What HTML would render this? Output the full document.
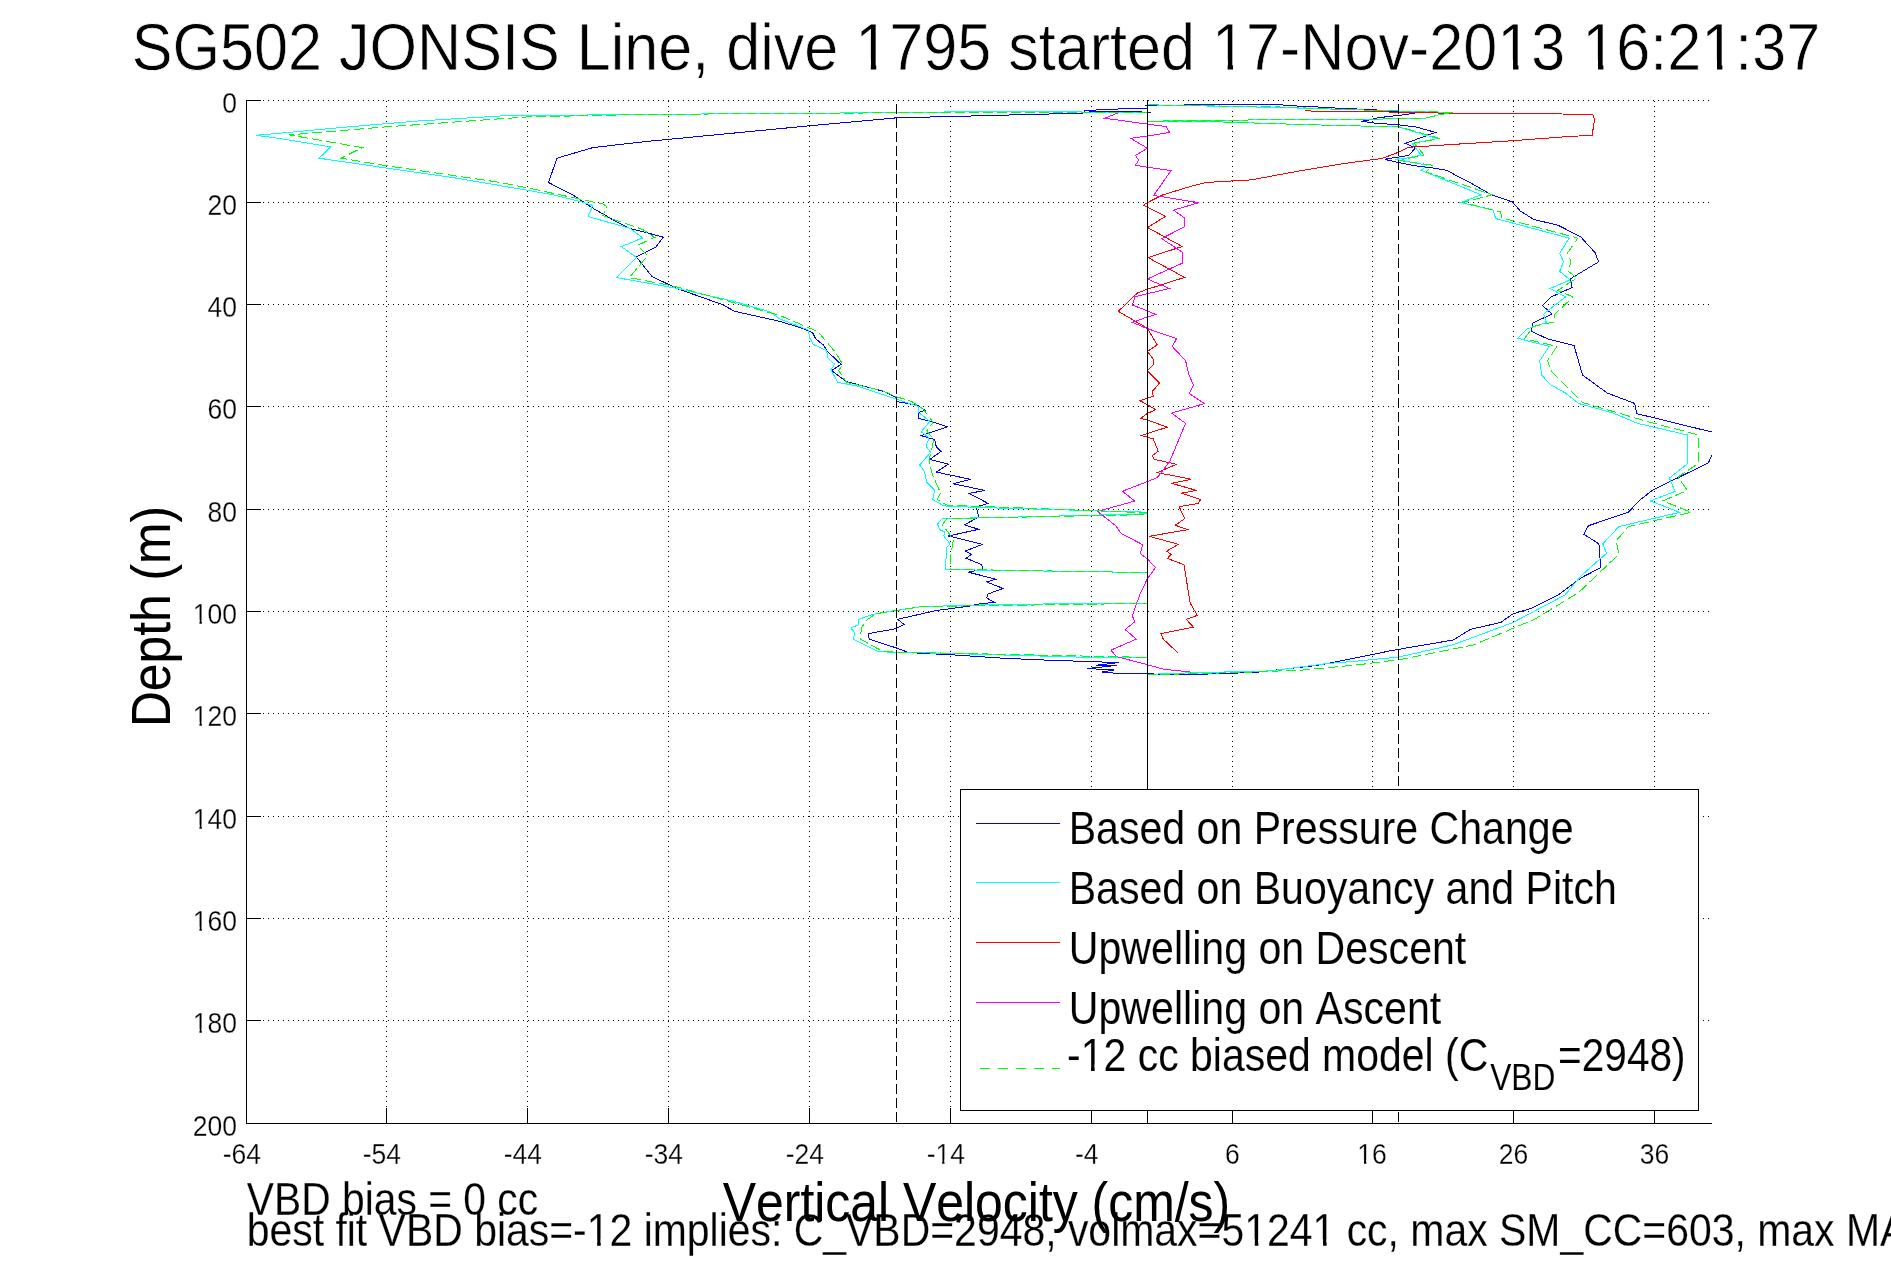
<!DOCTYPE html>
<html><head><meta charset="utf-8"><style>
html,body{margin:0;padding:0;background:#fff;width:1891px;height:1262px;overflow:hidden}
svg{display:block;font-family:"Liberation Sans",sans-serif} text{font-kerning:none;font-variant-ligatures:none;font-feature-settings:"kern" 0,"liga" 0}
</style></head><body>
<svg width="1891" height="1262" viewBox="0 0 1891 1262">
<g stroke="#000" stroke-width="1" stroke-dasharray="1 4" shape-rendering="crispEdges">
<line x1="386.5" y1="100" x2="386.5" y2="1123" stroke-dashoffset="4"/>
<line x1="527.5" y1="100" x2="527.5" y2="1123" stroke-dashoffset="4"/>
<line x1="668.5" y1="100" x2="668.5" y2="1123" stroke-dashoffset="4"/>
<line x1="809.5" y1="100" x2="809.5" y2="1123" stroke-dashoffset="4"/>
<line x1="950.5" y1="100" x2="950.5" y2="1123" stroke-dashoffset="4"/>
<line x1="1091.5" y1="100" x2="1091.5" y2="1123" stroke-dashoffset="4"/>
<line x1="1232.5" y1="100" x2="1232.5" y2="1123" stroke-dashoffset="4"/>
<line x1="1372.5" y1="100" x2="1372.5" y2="1123" stroke-dashoffset="4"/>
<line x1="1513.5" y1="100" x2="1513.5" y2="1123" stroke-dashoffset="4"/>
<line x1="1654.5" y1="100" x2="1654.5" y2="1123" stroke-dashoffset="4"/>
<line x1="246" y1="100.5" x2="1711" y2="100.5" stroke-dashoffset="3"/>
<line x1="246" y1="202.5" x2="1711" y2="202.5" stroke-dashoffset="3"/>
<line x1="246" y1="304.5" x2="1711" y2="304.5" stroke-dashoffset="3"/>
<line x1="246" y1="406.5" x2="1711" y2="406.5" stroke-dashoffset="3"/>
<line x1="246" y1="509.5" x2="1711" y2="509.5" stroke-dashoffset="3"/>
<line x1="246" y1="611.5" x2="1711" y2="611.5" stroke-dashoffset="3"/>
<line x1="246" y1="713.5" x2="1711" y2="713.5" stroke-dashoffset="3"/>
<line x1="246" y1="816.5" x2="1711" y2="816.5" stroke-dashoffset="3"/>
<line x1="246" y1="918.5" x2="1711" y2="918.5" stroke-dashoffset="3"/>
<line x1="246" y1="1020.5" x2="1711" y2="1020.5" stroke-dashoffset="3"/>
</g>
<defs><clipPath id="ax"><rect x="246" y="100" width="1466" height="1024"/></clipPath></defs>
<g clip-path="url(#ax)" fill="none" stroke-width="1" shape-rendering="crispEdges">
<polyline stroke="#0000ff" points="1150.7,112.5 1147.6,112.3 1133.9,111.6 1092.4,111.2 1085.0,110.8"/>
<polyline stroke="#0000ff" points="1147.5,108.2 1128.9,108.5 1100.9,109.8 1085.0,110.5 1082.9,113.3 1040.0,114.2 960.0,116.3 896.7,117.8 809.4,125.8 668.2,139.4 646.0,141.5 592.9,147.6 557.0,158.2 548.5,182.5 573.0,195.1 593.6,208.6 614.2,220.5 630.1,228.4 663.4,237.1 655.5,247.4 636.4,257.0 652.3,276.8 677.7,288.7 722.1,304.5 734.8,311.4 780.0,321.4 800.6,327.8 812.5,332.5 815.7,338.9 823.6,345.2 827.6,351.6 841.1,364.3 831.6,370.6 846.6,381.7 883.1,391.2 896.6,397.6 896.6,401.5 918.0,405.5 925.2,410.3 918.0,412.6 918.0,418.2 933.9,422.2 947.4,426.9 921.2,435.6 934.7,439.6 936.3,446.8 941.0,451.5 929.9,459.4 948.2,464.2 936.3,472.1 970.4,479.3 952.9,483.7 984.7,490.4 969.3,493.4 988.2,503.5 976.3,506.7 978.7,517.0 964.4,524.9 978.7,529.3 948.5,536.0 982.6,544.3 965.2,551.1 971.5,554.3 966.0,558.2 981.8,564.6 982.6,569.3 968.3,572.2 996.1,579.2 986.6,582.0 1003.2,588.4 988.2,593.9 986.6,597.9 994.5,602.3 977.1,604.2 971.5,605.8 935.8,610.6 897.7,619.3 904.1,624.5 895.4,628.8 868.4,633.6 869.2,639.1 896.2,647.9 908.8,652.6 954.9,655.0 1002.5,658.2 1058.0,660.6 1080.0,661.2 1118.9,662.6 1096.0,665.3 1116.5,665.5 1087.0,668.5 1114.0,670.0 1102.0,672.0 1121.3,673.7 1195.8,674.4 1229.1,673.3 1254.5,672.5 1318.0,665.3 1360.0,657.0 1392.4,650.4 1453.3,640.0 1470.4,629.4 1500.9,622.4 1512.3,614.2 1532.3,607.9 1558.0,595.2 1580.8,578.0 1600.8,567.6 1598.9,543.8 1583.7,534.2 1588.4,525.7 1628.4,512.3 1638.9,500.9 1652.2,490.4 1708.4,462.8 1711.5,456.0 1725.0,445.0 1711.8,432.0 1636.7,413.6 1634.8,403.5 1607.2,393.0 1582.5,375.0 1574.0,345.5 1547.4,338.8 1531.2,331.2 1533.1,322.7 1552.1,314.1 1542.6,305.6 1551.2,297.0 1572.1,287.5 1570.2,278.9 1598.7,261.8 1594.9,252.3 1587.8,244.9 1581.1,237.1 1558.2,225.3 1533.7,219.4 1520.1,210.9 1512.5,202.0 1491.4,194.8 1467.7,181.3 1460.3,177.7 1446.6,170.2 1436.2,168.5 1425.9,167.1 1414.2,165.7 1399.1,162.6 1388.1,160.2 1385.4,159.2 1388.1,158.5 1398.4,157.1 1408.7,155.4 1415.6,147.8 1405.3,143.4 1435.6,132.4 1415.6,126.9 1398.4,124.8 1388.1,124.1 1377.1,123.4 1367.5,122.1 1361.3,121.4 1367.5,120.3 1379.2,117.6 1400.5,115.2 1414.9,113.1 1371.6,109.6 1340.0,108.3 1316.1,106.9 1298.6,106.1 1279.6,104.8 1208.2,104.8 1147.5,105.3 1144.8,105.5"/>
<polyline stroke="#00ffff" points="1147.5,112.2 1082.0,112.0 960.0,111.8 896.0,112.6 646.0,114.4 502.0,115.9 415.2,121.2 341.2,127.5 284.0,132.8 256.2,135.3 284.0,139.1 330.6,147.0 319.0,158.2 381.4,167.3 457.5,178.3 500.0,185.6 550.8,194.3 582.5,202.2 592.8,205.4 588.1,216.5 630.1,228.4 642.8,237.9 621.4,246.6 636.4,257.4 616.6,277.6 674.5,287.9 733.3,301.2 769.7,311.7 780.0,319.0 808.6,330.1 809.4,337.3 813.3,344.4 826.8,350.8 827.6,357.9 834.7,364.3 830.8,369.8 837.9,382.5 856.2,385.7 896.6,399.2 918.0,406.3 918.8,412.6 929.9,421.4 921.2,431.7 929.1,438.0 926.0,446.0 930.7,452.3 919.6,465.0 924.4,471.3 926.8,482.5 934.7,490.4 932.6,499.5 943.8,505.9 978.7,507.5 1147.5,512.2 1147.5,513.8 1018.3,517.0 942.2,518.6 937.4,524.1 939.8,529.7 944.5,532.0 943.8,536.0 950.1,543.9 946.9,547.1 945.3,569.3 978.7,570.1 1147.5,572.5 1147.5,603.4 1010.4,604.2 921.5,606.6 894.6,610.6 872.4,614.5 858.9,619.3 858.1,624.9 850.9,628.0 854.9,632.8 853.3,639.1 878.7,651.8 946.9,653.4 1089.7,657.4 1147.5,657.9 1147.5,674.4 1191.0,672.8 1270.4,670.9 1325.9,663.7 1360.0,660.8 1399.0,657.0 1453.3,644.7 1512.3,622.8 1564.7,595.2 1581.8,575.2 1606.5,553.3 1602.7,543.8 1618.9,526.6 1679.8,512.3 1650.3,500.9 1675.1,491.4 1669.4,478.1 1687.4,463.8 1687.1,434.9 1637.7,423.4 1613.0,413.0 1578.7,403.5 1565.4,393.0 1550.2,384.5 1541.7,375.0 1539.7,360.7 1549.3,346.4 1517.9,338.3 1526.4,329.3 1546.4,322.7 1543.6,314.1 1565.4,297.0 1550.2,288.4 1570.2,279.9 1559.7,271.3 1563.5,261.8 1559.7,253.3 1569.2,238.1 1495.6,218.5 1493.1,210.1 1460.9,202.5 1481.2,194.8 1421.2,170.3 1427.1,165.2 1395.0,159.2 1408.7,157.8 1421.1,155.1 1412.2,143.4 1437.6,138.6 1398.4,126.9 1340.0,125.5 1324.0,125.1 1271.7,123.6 1222.5,122.0 1147.5,121.2 1282.8,119.6 1371.0,119.3 1425.9,118.0 1440.4,114.5 1452.7,112.4 1394.0,110.9 1340.0,109.3 1280.0,107.5 1147.5,104.8"/>
<polyline stroke="#ff0000" points="1305.0,110.9 1351.0,111.7 1436.2,112.4 1439.0,113.5 1537.1,113.6 1592.9,114.5 1594.6,119.5 1592.1,135.3 1569.2,136.5 1508.3,141.0 1464.3,143.7 1432.1,145.8 1417.0,146.8 1408.7,147.2 1398.4,152.3 1381.9,158.5 1346.2,163.2 1298.6,171.1 1251.0,179.9 1206.7,182.4 1190.9,186.3 1162.4,195.0 1147.3,202.7 1143.4,205.3 1165.5,216.4 1147.5,227.5 1182.2,246.5 1148.1,257.6 1184.6,277.4 1147.3,289.3 1137.4,293.0 1118.3,311.3 1147.4,328.3 1153.2,338.2 1157.3,344.9 1147.4,351.5 1153.2,359.0 1153.2,364.8 1147.4,370.7 1159.5,383.1 1152.3,391.5 1153.2,396.4 1139.9,400.6 1147.4,404.8 1155.7,409.8 1147.4,413.4 1140.7,418.4 1147.4,420.1 1158.2,423.9 1167.3,427.2 1147.4,433.4 1141.5,435.5 1153.2,438.9 1158.2,451.3 1152.3,455.5 1154.0,459.3 1176.5,464.3 1157.3,472.6 1191.4,479.3 1171.5,483.3 1196.4,490.4 1181.5,493.2 1200.6,499.5 1198.2,503.5 1179.2,506.7 1184.7,518.6 1175.2,525.2 1187.9,529.7 1149.0,536.3 1178.4,544.3 1166.5,551.1 1171.2,554.3 1167.3,558.5 1183.9,564.6 1190.3,603.4 1197.4,615.3 1186.3,619.3 1193.4,627.2 1160.9,633.6 1163.3,639.1 1177.6,652.6"/>
<polyline stroke="#ff00ff" points="1118.5,112.8 1104.6,118.2 1147.3,124.1 1166.3,126.6 1169.5,132.5 1147.3,136.1 1130.7,138.3 1147.5,148.3 1135.4,155.4 1138.6,160.2 1135.4,165.3 1147.3,167.3 1171.1,170.5 1153.7,195.4 1198.8,202.7 1173.5,210.1 1184.6,218.0 1184.6,226.7 1161.6,238.6 1182.2,252.1 1182.2,263.2 1147.3,279.0 1169.5,288.5 1134.9,296.7 1132.4,305.0 1147.4,310.8 1155.7,314.6 1147.4,316.9 1132.4,322.4 1147.4,328.6 1176.5,338.6 1172.3,346.5 1185.6,360.7 1188.9,374.8 1193.6,385.1 1189.4,393.5 1204.4,403.6 1171.5,413.1 1185.6,423.4 1169.8,461.3 1157.3,477.6 1147.4,481.6 1122.4,491.2 1134.7,501.1 1097.5,511.4 1115.7,525.7 1121.3,533.6 1142.7,544.7 1140.3,553.5 1148.2,559.8 1155.4,567.7 1147.4,578.8 1141.1,591.5 1136.3,604.2 1132.4,616.1 1134.7,621.7 1125.2,629.6 1136.3,639.1 1110.9,650.2 1116.5,656.6 1146.6,664.5 1164.1,669.3 1191.1,672.1"/>
<polyline stroke="#00ff00" stroke-dasharray="10 4" points="1147.5,112.4 960.0,112.1 896.0,112.8 646.0,114.4 527.3,116.9 385.6,126.9 289.4,134.9 362.3,147.6 341.2,158.2 385.6,165.6 500.0,182.4 527.3,187.8 603.1,204.1 606.6,206.2 602.8,215.7 642.8,229.5 654.7,237.4 637.2,245.4 647.6,255.8 629.3,277.6 674.5,286.3 780.0,315.5 818.1,331.7 835.5,352.4 842.7,364.3 838.7,370.6 846.6,382.5 881.5,390.4 896.6,396.8 911.7,401.5 923.6,409.5 933.1,422.2 926.8,430.9 933.9,439.6 929.1,460.2 932.3,474.5 938.7,488.8 940.6,493.2 937.4,499.5 946.9,505.1 1147.5,512.8 1147.5,514.6 946.9,518.6 942.2,524.9 948.5,532.8 953.3,540.8 950.9,553.5 950.1,569.3 1147.5,572.6 1147.5,603.4 921.5,606.6 875.5,613.8 866.8,620.1 861.3,628.0 860.5,639.1 883.5,651.8 1147.5,657.4 1147.5,674.8 1238.7,672.5 1302.1,670.1 1360.0,664.6 1403.8,658.9 1474.2,644.7 1535.1,619.0 1578.9,592.3 1618.9,554.2 1616.1,540.9 1628.4,526.6 1691.3,512.3 1662.7,500.9 1687.4,490.4 1677.9,477.1 1695.0,465.7 1698.9,462.8 1698.5,434.9 1647.2,421.5 1582.5,402.5 1552.1,372.1 1547.4,360.7 1556.9,346.4 1524.5,338.8 1533.1,326.5 1555.0,321.7 1554.0,315.1 1573.0,297.0 1557.8,290.4 1576.8,278.0 1568.3,271.3 1571.1,260.9 1567.3,253.3 1577.8,238.1 1501.5,217.7 1500.7,211.8 1462.6,202.5 1492.2,194.8 1426.2,172.0 1432.2,165.2 1400.0,160.5 1410.0,158.0 1424.0,155.0 1414.0,143.0 1440.0,138.6 1400.0,126.9 1340.0,125.5 1272.0,123.6 1222.0,122.0 1147.5,121.2 1283.0,119.6 1371.0,119.3 1426.0,118.0 1441.0,114.5 1453.0,112.4 1394.0,110.9 1340.0,109.3 1280.0,107.0 1147.5,104.8"/>
</g>
<g stroke="#000" stroke-width="1" shape-rendering="crispEdges">
<line x1="1147.5" y1="100" x2="1147.5" y2="1123"/>
<line x1="896.5" y1="100" x2="896.5" y2="1123" stroke-dasharray="10 4" stroke-dashoffset="10"/>
<line x1="1398.5" y1="100" x2="1398.5" y2="1123" stroke-dasharray="10 4" stroke-dashoffset="10"/>
</g>
<g stroke="#000" stroke-width="1" shape-rendering="crispEdges" fill="none">
<line x1="246.5" y1="100" x2="246.5" y2="1124"/>
<line x1="246" y1="1123.5" x2="1712" y2="1123.5"/>
<line x1="246.5" y1="1108" x2="246.5" y2="1123"/>
<line x1="386.5" y1="1108" x2="386.5" y2="1123"/>
<line x1="527.5" y1="1108" x2="527.5" y2="1123"/>
<line x1="668.5" y1="1108" x2="668.5" y2="1123"/>
<line x1="809.5" y1="1108" x2="809.5" y2="1123"/>
<line x1="950.5" y1="1108" x2="950.5" y2="1123"/>
<line x1="1091.5" y1="1108" x2="1091.5" y2="1123"/>
<line x1="1232.5" y1="1108" x2="1232.5" y2="1123"/>
<line x1="1372.5" y1="1108" x2="1372.5" y2="1123"/>
<line x1="1513.5" y1="1108" x2="1513.5" y2="1123"/>
<line x1="1654.5" y1="1108" x2="1654.5" y2="1123"/>
<line x1="246" y1="100.5" x2="261" y2="100.5"/>
<line x1="246" y1="202.5" x2="261" y2="202.5"/>
<line x1="246" y1="304.5" x2="261" y2="304.5"/>
<line x1="246" y1="406.5" x2="261" y2="406.5"/>
<line x1="246" y1="509.5" x2="261" y2="509.5"/>
<line x1="246" y1="611.5" x2="261" y2="611.5"/>
<line x1="246" y1="713.5" x2="261" y2="713.5"/>
<line x1="246" y1="816.5" x2="261" y2="816.5"/>
<line x1="246" y1="918.5" x2="261" y2="918.5"/>
<line x1="246" y1="1020.5" x2="261" y2="1020.5"/>
<line x1="246" y1="1123.5" x2="261" y2="1123.5"/>
</g>
<g font-family="Liberation Sans, sans-serif">
<mask id="m1" maskUnits="userSpaceOnUse" x="218.3" y="83.5" width="22.7" height="39.8"><text transform="translate(222.30,113.00) scale(0.8983,1)" font-size="29.50" fill="#fff" stroke="#000" stroke-width="0.4">0</text></mask>
<rect x="218.3" y="83.5" width="22.7" height="39.8" fill="#000" mask="url(#m1)"/>
<mask id="m2" maskUnits="userSpaceOnUse" x="203.6" y="185.5" width="37.5" height="39.8"><text transform="translate(207.56,215.00) scale(0.8983,1)" font-size="29.50" fill="#fff" stroke="#000" stroke-width="0.4">20</text></mask>
<rect x="203.6" y="185.5" width="37.5" height="39.8" fill="#000" mask="url(#m2)"/>
<mask id="m3" maskUnits="userSpaceOnUse" x="203.6" y="287.5" width="37.5" height="39.8"><text transform="translate(207.56,317.00) scale(0.8983,1)" font-size="29.50" fill="#fff" stroke="#000" stroke-width="0.4">40</text></mask>
<rect x="203.6" y="287.5" width="37.5" height="39.8" fill="#000" mask="url(#m3)"/>
<mask id="m4" maskUnits="userSpaceOnUse" x="203.6" y="389.5" width="37.5" height="39.8"><text transform="translate(207.56,419.00) scale(0.8983,1)" font-size="29.50" fill="#fff" stroke="#000" stroke-width="0.4">60</text></mask>
<rect x="203.6" y="389.5" width="37.5" height="39.8" fill="#000" mask="url(#m4)"/>
<mask id="m5" maskUnits="userSpaceOnUse" x="203.6" y="492.5" width="37.5" height="39.8"><text transform="translate(207.56,522.00) scale(0.8983,1)" font-size="29.50" fill="#fff" stroke="#000" stroke-width="0.4">80</text></mask>
<rect x="203.6" y="492.5" width="37.5" height="39.8" fill="#000" mask="url(#m5)"/>
<mask id="m6" maskUnits="userSpaceOnUse" x="188.8" y="594.5" width="52.2" height="39.8"><text transform="translate(192.82,624.00) scale(0.8983,1)" font-size="29.50" fill="#fff" stroke="#000" stroke-width="0.4">100</text><g transform="translate(192.82,624.00) scale(0.8983,1)" fill="#000"><rect x="1.30" y="-4.32" width="6.12" height="4.90"/><rect x="10.03" y="-4.32" width="5.82" height="4.90"/></g></mask>
<rect x="188.8" y="594.5" width="52.2" height="39.8" fill="#000" mask="url(#m6)"/>
<mask id="m7" maskUnits="userSpaceOnUse" x="188.8" y="696.5" width="52.2" height="39.8"><text transform="translate(192.82,726.00) scale(0.8983,1)" font-size="29.50" fill="#fff" stroke="#000" stroke-width="0.4">120</text><g transform="translate(192.82,726.00) scale(0.8983,1)" fill="#000"><rect x="1.30" y="-4.32" width="6.12" height="4.90"/><rect x="10.03" y="-4.32" width="5.82" height="4.90"/></g></mask>
<rect x="188.8" y="696.5" width="52.2" height="39.8" fill="#000" mask="url(#m7)"/>
<mask id="m8" maskUnits="userSpaceOnUse" x="188.8" y="799.5" width="52.2" height="39.8"><text transform="translate(192.82,829.00) scale(0.8983,1)" font-size="29.50" fill="#fff" stroke="#000" stroke-width="0.4">140</text><g transform="translate(192.82,829.00) scale(0.8983,1)" fill="#000"><rect x="1.30" y="-4.32" width="6.12" height="4.90"/><rect x="10.03" y="-4.32" width="5.82" height="4.90"/></g></mask>
<rect x="188.8" y="799.5" width="52.2" height="39.8" fill="#000" mask="url(#m8)"/>
<mask id="m9" maskUnits="userSpaceOnUse" x="188.8" y="901.5" width="52.2" height="39.8"><text transform="translate(192.82,931.00) scale(0.8983,1)" font-size="29.50" fill="#fff" stroke="#000" stroke-width="0.4">160</text><g transform="translate(192.82,931.00) scale(0.8983,1)" fill="#000"><rect x="1.30" y="-4.32" width="6.12" height="4.90"/><rect x="10.03" y="-4.32" width="5.82" height="4.90"/></g></mask>
<rect x="188.8" y="901.5" width="52.2" height="39.8" fill="#000" mask="url(#m9)"/>
<mask id="m10" maskUnits="userSpaceOnUse" x="188.8" y="1003.5" width="52.2" height="39.8"><text transform="translate(192.82,1033.00) scale(0.8983,1)" font-size="29.50" fill="#fff" stroke="#000" stroke-width="0.4">180</text><g transform="translate(192.82,1033.00) scale(0.8983,1)" fill="#000"><rect x="1.30" y="-4.32" width="6.12" height="4.90"/><rect x="10.03" y="-4.32" width="5.82" height="4.90"/></g></mask>
<rect x="188.8" y="1003.5" width="52.2" height="39.8" fill="#000" mask="url(#m10)"/>
<mask id="m11" maskUnits="userSpaceOnUse" x="188.8" y="1106.5" width="52.2" height="39.8"><text transform="translate(192.82,1136.00) scale(0.8983,1)" font-size="29.50" fill="#fff" stroke="#000" stroke-width="0.4">200</text></mask>
<rect x="188.8" y="1106.5" width="52.2" height="39.8" fill="#000" mask="url(#m11)"/>
<mask id="m12" maskUnits="userSpaceOnUse" x="218.6" y="1134.5" width="46.3" height="39.8"><text transform="translate(222.65,1164.00) scale(0.8983,1)" font-size="29.50" fill="#fff" stroke="#000" stroke-width="0.4">-64</text></mask>
<rect x="218.6" y="1134.5" width="46.3" height="39.8" fill="#000" mask="url(#m12)"/>
<mask id="m13" maskUnits="userSpaceOnUse" x="358.6" y="1134.5" width="46.3" height="39.8"><text transform="translate(362.65,1164.00) scale(0.8983,1)" font-size="29.50" fill="#fff" stroke="#000" stroke-width="0.4">-54</text></mask>
<rect x="358.6" y="1134.5" width="46.3" height="39.8" fill="#000" mask="url(#m13)"/>
<mask id="m14" maskUnits="userSpaceOnUse" x="499.6" y="1134.5" width="46.3" height="39.8"><text transform="translate(503.65,1164.00) scale(0.8983,1)" font-size="29.50" fill="#fff" stroke="#000" stroke-width="0.4">-44</text></mask>
<rect x="499.6" y="1134.5" width="46.3" height="39.8" fill="#000" mask="url(#m14)"/>
<mask id="m15" maskUnits="userSpaceOnUse" x="640.6" y="1134.5" width="46.3" height="39.8"><text transform="translate(644.65,1164.00) scale(0.8983,1)" font-size="29.50" fill="#fff" stroke="#000" stroke-width="0.4">-34</text></mask>
<rect x="640.6" y="1134.5" width="46.3" height="39.8" fill="#000" mask="url(#m15)"/>
<mask id="m16" maskUnits="userSpaceOnUse" x="781.6" y="1134.5" width="46.3" height="39.8"><text transform="translate(785.65,1164.00) scale(0.8983,1)" font-size="29.50" fill="#fff" stroke="#000" stroke-width="0.4">-24</text></mask>
<rect x="781.6" y="1134.5" width="46.3" height="39.8" fill="#000" mask="url(#m16)"/>
<mask id="m17" maskUnits="userSpaceOnUse" x="922.6" y="1134.5" width="46.3" height="39.8"><text transform="translate(926.65,1164.00) scale(0.8983,1)" font-size="29.50" fill="#fff" stroke="#000" stroke-width="0.4">-14</text><g transform="translate(926.65,1164.00) scale(0.8983,1)" fill="#000"><rect x="11.12" y="-4.32" width="6.12" height="4.90"/><rect x="19.85" y="-4.32" width="5.82" height="4.90"/></g></mask>
<rect x="922.6" y="1134.5" width="46.3" height="39.8" fill="#000" mask="url(#m17)"/>
<mask id="m18" maskUnits="userSpaceOnUse" x="1071.0" y="1134.5" width="31.6" height="39.8"><text transform="translate(1075.02,1164.00) scale(0.8983,1)" font-size="29.50" fill="#fff" stroke="#000" stroke-width="0.4">-4</text></mask>
<rect x="1071.0" y="1134.5" width="31.6" height="39.8" fill="#000" mask="url(#m18)"/>
<mask id="m19" maskUnits="userSpaceOnUse" x="1221.0" y="1134.5" width="22.7" height="39.8"><text transform="translate(1225.04,1164.00) scale(0.8983,1)" font-size="29.50" fill="#fff" stroke="#000" stroke-width="0.4">6</text></mask>
<rect x="1221.0" y="1134.5" width="22.7" height="39.8" fill="#000" mask="url(#m19)"/>
<mask id="m20" maskUnits="userSpaceOnUse" x="1353.3" y="1134.5" width="37.5" height="39.8"><text transform="translate(1357.33,1164.00) scale(0.8983,1)" font-size="29.50" fill="#fff" stroke="#000" stroke-width="0.4">16</text><g transform="translate(1357.33,1164.00) scale(0.8983,1)" fill="#000"><rect x="1.30" y="-4.32" width="6.12" height="4.90"/><rect x="10.03" y="-4.32" width="5.82" height="4.90"/></g></mask>
<rect x="1353.3" y="1134.5" width="37.5" height="39.8" fill="#000" mask="url(#m20)"/>
<mask id="m21" maskUnits="userSpaceOnUse" x="1494.7" y="1134.5" width="37.5" height="39.8"><text transform="translate(1498.68,1164.00) scale(0.8983,1)" font-size="29.50" fill="#fff" stroke="#000" stroke-width="0.4">26</text></mask>
<rect x="1494.7" y="1134.5" width="37.5" height="39.8" fill="#000" mask="url(#m21)"/>
<mask id="m22" maskUnits="userSpaceOnUse" x="1635.8" y="1134.5" width="37.5" height="39.8"><text transform="translate(1639.84,1164.00) scale(0.8983,1)" font-size="29.50" fill="#fff" stroke="#000" stroke-width="0.4">36</text></mask>
<rect x="1635.8" y="1134.5" width="37.5" height="39.8" fill="#000" mask="url(#m22)"/>
<mask id="m23" maskUnits="userSpaceOnUse" x="127.7" y="2.0" width="1696.9" height="91.1"><text transform="translate(131.72,69.50) scale(0.9056,1)" font-size="67.50" fill="#fff" stroke="#000" stroke-width="0.8">SG502 JONSIS Line, dive 1795 started 17-Nov-2013 16:21:37</text><g transform="translate(131.72,69.50) scale(0.9056,1)" fill="#000"><rect x="802.12" y="-9.89" width="14.01" height="11.21"/><rect x="822.10" y="-9.89" width="13.32" height="11.21"/><rect x="1196.15" y="-9.89" width="14.01" height="11.21"/><rect x="1216.12" y="-9.89" width="13.32" height="11.21"/><rect x="1511.30" y="-9.89" width="14.01" height="11.21"/><rect x="1531.27" y="-9.89" width="13.32" height="11.21"/><rect x="1605.14" y="-9.89" width="14.01" height="11.21"/><rect x="1625.11" y="-9.89" width="13.32" height="11.21"/><rect x="1736.51" y="-9.89" width="14.01" height="11.21"/><rect x="1756.48" y="-9.89" width="13.32" height="11.21"/></g></mask>
<rect x="127.7" y="2.0" width="1696.9" height="91.1" fill="#000" mask="url(#m23)"/>
<mask id="m24" maskUnits="userSpaceOnUse" x="718.8" y="1165.8" width="515.4" height="74.5"><text transform="translate(722.78,1221.00) scale(0.9040,1)" font-size="55.20" fill="#fff">Vertical Velocity (cm/s)</text></mask>
<rect x="718.8" y="1165.8" width="515.4" height="74.5" fill="#000" mask="url(#m24)"/>
<mask id="m25" maskUnits="userSpaceOnUse" x="0.0" y="0.0" width="1891.0" height="1262.0"><text transform="translate(170,727.08) rotate(-90) scale(0.9013,1)" font-size="55.20" fill="#fff">Depth (m)</text></mask>
<rect x="0.0" y="0.0" width="1891.0" height="1262.0" fill="#000" mask="url(#m25)"/>
<mask id="m26" maskUnits="userSpaceOnUse" x="242.8" y="1168.5" width="299.4" height="62.8"><text transform="translate(246.82,1215.00) scale(0.8774,1)" font-size="46.50" fill="#fff" stroke="#000" stroke-width="0.3">VBD bias = 0 cc</text></mask>
<rect x="242.8" y="1168.5" width="299.4" height="62.8" fill="#000" mask="url(#m26)"/>
<mask id="m27" maskUnits="userSpaceOnUse" x="242.7" y="1199.5" width="1669.1" height="62.8"><text transform="translate(246.66,1246.00) scale(0.8804,1)" font-size="46.50" fill="#fff" stroke="#000" stroke-width="0.3">best fit VBD bias=-12 implies: C_VBD=2948, volmax=51241 cc, max SM_CC=603, max MA</text><g transform="translate(246.66,1246.00) scale(0.8804,1)" fill="#000"><rect x="388.42" y="-6.81" width="9.65" height="7.72"/><rect x="402.18" y="-6.81" width="9.17" height="7.72"/><rect x="1135.39" y="-6.81" width="9.65" height="7.72"/><rect x="1149.15" y="-6.81" width="9.17" height="7.72"/><rect x="1212.97" y="-6.81" width="9.65" height="7.72"/><rect x="1226.73" y="-6.81" width="9.17" height="7.72"/></g></mask>
<rect x="242.7" y="1199.5" width="1669.1" height="62.8" fill="#000" mask="url(#m27)"/>
</g>
<rect x="960.5" y="789.5" width="738" height="321" fill="#fff" stroke="#000" stroke-width="1" shape-rendering="crispEdges"/>
<g shape-rendering="crispEdges" stroke-width="1">
<line x1="976" y1="823.5" x2="1060" y2="823.5" stroke="#0000ff"/>
<line x1="976" y1="882.5" x2="1060" y2="882.5" stroke="#00ffff"/>
<line x1="976" y1="942.5" x2="1060" y2="942.5" stroke="#ff0000"/>
<line x1="976" y1="1002.5" x2="1060" y2="1002.5" stroke="#ff00ff"/>
<line x1="976" y1="1068.5" x2="1060" y2="1068.5" stroke="#00ff00" stroke-dasharray="0 4 10 4"/>
</g>
<g font-family="Liberation Sans, sans-serif">
<mask id="m28" maskUnits="userSpaceOnUse" x="1064.6" y="797.5" width="512.9" height="62.8"><text transform="translate(1068.63,844.00) scale(0.8839,1)" font-size="46.50" fill="#fff" stroke="#000" stroke-width="0.2">Based on Pressure Change</text></mask>
<rect x="1064.6" y="797.5" width="512.9" height="62.8" fill="#000" mask="url(#m28)"/>
<mask id="m29" maskUnits="userSpaceOnUse" x="1064.6" y="857.5" width="556.4" height="62.8"><text transform="translate(1068.63,904.00) scale(0.8839,1)" font-size="46.50" fill="#fff" stroke="#000" stroke-width="0.2">Based on Buoyancy and Pitch</text></mask>
<rect x="1064.6" y="857.5" width="556.4" height="62.8" fill="#000" mask="url(#m29)"/>
<mask id="m30" maskUnits="userSpaceOnUse" x="1064.8" y="917.5" width="405.5" height="62.8"><text transform="translate(1068.83,964.00) scale(0.8839,1)" font-size="46.50" fill="#fff" stroke="#000" stroke-width="0.2">Upwelling on Descent</text></mask>
<rect x="1064.8" y="917.5" width="405.5" height="62.8" fill="#000" mask="url(#m30)"/>
<mask id="m31" maskUnits="userSpaceOnUse" x="1064.8" y="977.5" width="380.4" height="62.8"><text transform="translate(1068.83,1024.00) scale(0.8839,1)" font-size="46.50" fill="#fff" stroke="#000" stroke-width="0.2">Upwelling on Ascent</text></mask>
<rect x="1064.8" y="977.5" width="380.4" height="62.8" fill="#000" mask="url(#m31)"/>
<mask id="m32" maskUnits="userSpaceOnUse" x="1063.1" y="1024.5" width="429.4" height="62.8"><text transform="translate(1067.08,1071.00) scale(0.8813,1)" font-size="46.50" fill="#fff" stroke="#000" stroke-width="0.2">-12 cc biased model (C</text><g transform="translate(1067.08,1071.00) scale(0.8813,1)" fill="#000"><rect x="17.53" y="-6.81" width="9.65" height="7.72"/><rect x="31.29" y="-6.81" width="9.17" height="7.72"/></g></mask>
<rect x="1063.1" y="1024.5" width="429.4" height="62.8" fill="#000" mask="url(#m32)"/>
<mask id="m33" maskUnits="userSpaceOnUse" x="1486.2" y="1053.7" width="73.4" height="49.0"><text transform="translate(1490.16,1090.00) scale(0.8760,1)" font-size="36.30" fill="#fff" stroke="#000" stroke-width="0.2">VBD</text></mask>
<rect x="1486.2" y="1053.7" width="73.4" height="49.0" fill="#000" mask="url(#m33)"/>
<mask id="m34" maskUnits="userSpaceOnUse" x="1554.1" y="1024.5" width="135.4" height="62.8"><text transform="translate(1558.12,1071.00) scale(0.8720,1)" font-size="46.50" fill="#fff" stroke="#000" stroke-width="0.2">=2948)</text></mask>
<rect x="1554.1" y="1024.5" width="135.4" height="62.8" fill="#000" mask="url(#m34)"/>
</g>
</svg>
</body></html>
